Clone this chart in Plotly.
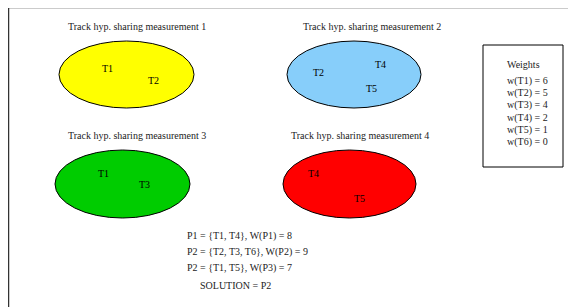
import plotly.graph_objects as go

# ---- data ----
titles = ["Track hyp. sharing measurement 1", "Track hyp. sharing measurement 2",
          "Track hyp. sharing measurement 3", "Track hyp. sharing measurement 4"]
ellipse_colors = ["#FFFF00", "#87CEFA", "#00CC00", "#FF0000"]
track_labels = [["T1", "T2"], ["T2", "T4", "T5"], ["T1", "T3"], ["T4", "T5"]]
weights_title = "Weights"
weight_tracks = ["T1", "T2", "T3", "T4", "T5", "T6"]
weight_values = [6, 5, 4, 2, 1, 0]
hypotheses = ["P1 = {T1, T4}, W(P1) = 8", "P2 = {T2, T3, T6}, W(P2) = 9", "P2 = {T1, T5}, W(P3) = 7"]
solution = "SOLUTION = P2"

# ---- layout geometry (pixel coordinates of the 576x307 window) ----
W, H = 576, 307
OFF = 8  # page body margin
ellipse_boxes = [(59, 41, 194, 108), (287, 41, 421, 108), (55, 150, 190, 218), (283, 150, 416, 218)]
title_pos = [(137, 26), (372, 26), (137, 135), (360, 135)]
label_pos = [[(107, 68), (153, 80)], [(318, 72), (380, 64), (371, 88)],
             [(103, 173), (144, 184)], [(313, 173), (359, 198)]]

FONT = "Liberation Serif, Times New Roman, serif"
TXT = "#222222"
FS = 10

fig = go.Figure()
shapes = []
annotations = []

# outer frame
shapes.append(dict(type="line", x0=8, y0=7.5, x1=W, y1=7.5, line=dict(color="#333333", width=1.5)))
shapes.append(dict(type="line", x0=8.5, y0=7, x1=8.5, y1=H, line=dict(color="#333333", width=1.5)))

for i in range(4):
    x0, y0, x1, y1 = ellipse_boxes[i]
    shapes.append(dict(type="circle", x0=x0, y0=y0, x1=x1, y1=y1,
                       fillcolor=ellipse_colors[i], line=dict(color="black", width=1)))
    tx, ty = title_pos[i]
    annotations.append(dict(x=tx, y=ty, text=titles[i], showarrow=False,
                            xanchor="center", yanchor="middle",
                            font=dict(family=FONT, size=FS, color=TXT)))
    for lab, (lx, ly) in zip(track_labels[i], label_pos[i]):
        annotations.append(dict(x=lx, y=ly, text=lab, showarrow=False,
                                xanchor="center", yanchor="middle",
                                font=dict(family=FONT, size=FS, color="black")))

# weights box
shapes.append(dict(type="rect", x0=483, y0=45, x1=563, y1=167,
                   line=dict(color="black", width=1), fillcolor="white"))
annotations.append(dict(x=505, y=64, text=weights_title, showarrow=False,
                        xanchor="left", yanchor="middle",
                        font=dict(family=FONT, size=FS, color=TXT)))
for k, (t, v) in enumerate(zip(weight_tracks, weight_values)):
    annotations.append(dict(x=505, y=81 + k * 12.2, text=f"w({t}) = {v}", showarrow=False,
                            xanchor="left", yanchor="middle",
                            font=dict(family=FONT, size=FS, color=TXT)))

for k, h in enumerate(hypotheses):
    annotations.append(dict(x=185, y=236 + k * 16, text=h, showarrow=False,
                            xanchor="left", yanchor="middle",
                            font=dict(family=FONT, size=FS, color=TXT)))
annotations.append(dict(x=198, y=285, text=solution, showarrow=False,
                        xanchor="left", yanchor="middle",
                        font=dict(family=FONT, size=FS, color=TXT)))

fig.update_layout(
    width=W - OFF, height=H - OFF, margin=dict(l=0, r=0, t=0, b=0),
    paper_bgcolor="white", plot_bgcolor="white",
    xaxis=dict(range=[OFF, W], visible=False, fixedrange=True),
    yaxis=dict(range=[H, OFF], visible=False, fixedrange=True),
    shapes=shapes, annotations=annotations, showlegend=False,
)
fig.write_html("out.html", config={"displayModeBar": False})
